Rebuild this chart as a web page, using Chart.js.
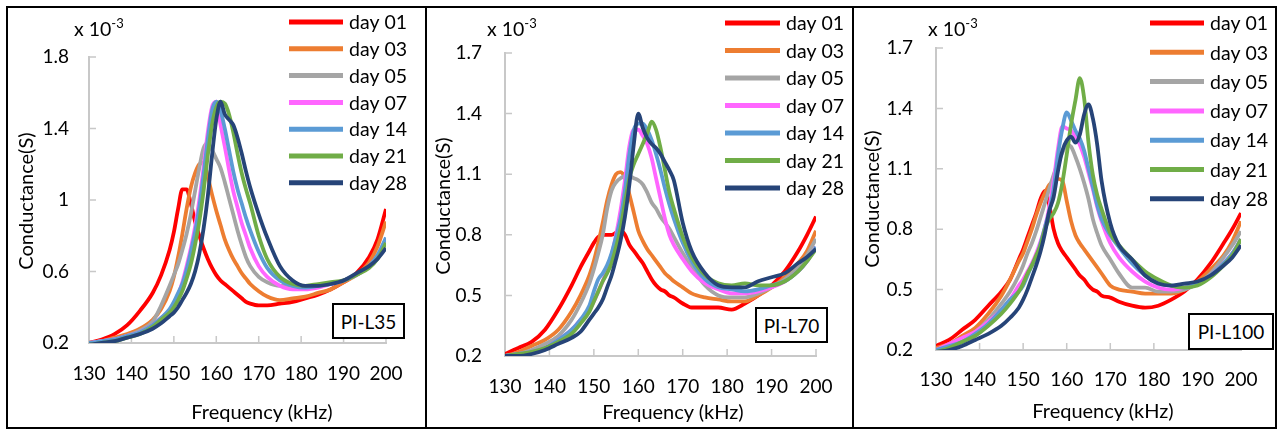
<!DOCTYPE html>
<html lang="en">
<head>
<meta charset="UTF-8">
<title>Conductance vs frequency - PI-L35 / PI-L70 / PI-L100</title>
<script src="https://cdn.jsdelivr.net/npm/chart.js"></script>
<style>
    body { margin: 0; width: 1277px; height: 431px; background: #fff; position: relative; overflow: hidden;
           font-family: Lato, "Open Sans", sans-serif; color: #000; }
    canvas { position: absolute; top: 0; }
    .frame { position: absolute; top: 6px; height: 423px; border: 2px solid #000; box-sizing: border-box; }
    .txt { position: absolute; white-space: nowrap; font-size: 20px; transform: translate(-50%, -50%); }
    .ytitle { transform: translate(-50%, -50%) rotate(-90deg); }
    .mult { position: absolute; white-space: nowrap; font-size: 19.5px; line-height: 22px; }
    .mult sup { font-size: 13px; vertical-align: 8px; line-height: 0; }
    .tag { position: absolute; border: 2px solid #000; box-sizing: border-box; font-size: 19px;
           display: flex; align-items: center; justify-content: center; background: #fff; }
</style>
</head>
<body>

<canvas id="c1" width="425" height="431" style="left:0px"></canvas>
<canvas id="c2" width="427" height="431" style="left:425px"></canvas>
<canvas id="c3" width="425" height="431" style="left:852px"></canvas>

<div class="frame" style="left:6px; width:421px"></div>
<div class="frame" style="left:425px; width:429px"></div>
<div class="frame" style="left:852px; width:425px"></div>

<!-- textos fora do canvas -->
<div class="txt ytitle" style="left:25px; top:201px">Conductance(S)</div>
<div class="txt ytitle" style="left:442px; top:206px">Conductance(S)</div>
<div class="txt ytitle" style="left:871px; top:199px">Conductance(S)</div>

<div class="txt" style="left:262px; top:411px">Frequency (kHz)</div>
<div class="txt" style="left:673px; top:411px">Frequency (kHz)</div>
<div class="txt" style="left:1103px; top:410px">Frequency (kHz)</div>

<div class="mult" style="left:74px; top:18px">x 10<sup>-3</sup></div>
<div class="mult" style="left:487px; top:18px">x 10<sup>-3</sup></div>
<div class="mult" style="left:928px; top:18px">x 10<sup>-3</sup></div>

<div class="tag" style="left:332px; top:303px; width:73px; height:36px">PI-L35</div>
<div class="tag" style="left:755px; top:307px; width:73px; height:36px">PI-L70</div>
<div class="tag" style="left:1188px; top:313px; width:86px; height:37px">PI-L100</div>

<script>
    // frequencias (kHz) - mesmas para os tres graficos
    const freq = [130, 133, 136, 139, 142, 145, 147, 149, 150, 151, 152, 153, 154, 155, 156, 157, 158, 159, 160,
                  161, 162, 163, 164, 165, 166, 167, 168, 170, 172, 175, 178, 181, 184, 187, 190, 193, 196, 198, 200];

    const days = ['day 01', 'day 03', 'day 05', 'day 07', 'day 14', 'day 21', 'day 28'];

    const xTicks = [130, 140, 150, 160, 170, 180, 190, 200];
    const yTicksL35 = [0.2, 0.6, 1.0, 1.4, 1.8];
    const yTicksL70 = [0.2, 0.5, 0.8, 1.1, 1.4, 1.7];
    const yTicksL100 = [0.2, 0.5, 0.8, 1.1, 1.4, 1.7];

    // PI-L35 (x 10^-3 S)
    const l35Day01 = [0.20,0.22,0.25,0.30,0.38,0.48,0.58,0.72,0.82,0.95,1.06,1.06,0.98,0.88,0.80,0.73,0.67,0.62,0.58,0.55,0.53,0.51,0.49,0.47,0.45,0.43,0.42,0.41,0.41,0.42,0.43,0.45,0.47,0.50,0.54,0.59,0.68,0.78,0.95];
    const l35Day03 = [0.20,0.21,0.23,0.25,0.28,0.33,0.39,0.49,0.57,0.68,0.81,0.95,1.07,1.15,1.20,1.21,1.13,1.03,0.94,0.86,0.78,0.72,0.67,0.63,0.59,0.56,0.53,0.49,0.46,0.44,0.45,0.46,0.48,0.50,0.54,0.58,0.65,0.74,0.88];
    const l35Day05 = [0.20,0.21,0.22,0.24,0.27,0.32,0.41,0.52,0.58,0.64,0.72,0.81,0.92,1.05,1.18,1.29,1.32,1.28,1.23,1.18,1.10,1.01,0.92,0.83,0.75,0.68,0.63,0.57,0.54,0.52,0.52,0.52,0.52,0.53,0.55,0.58,0.63,0.69,0.78];
    const l35Day07 = [0.20,0.21,0.22,0.24,0.26,0.30,0.34,0.38,0.42,0.47,0.54,0.63,0.73,0.85,1.00,1.18,1.38,1.52,1.55,1.42,1.30,1.17,1.05,0.96,0.87,0.80,0.73,0.63,0.57,0.52,0.50,0.50,0.51,0.53,0.55,0.58,0.63,0.68,0.76];
    const l35Day14 = [0.20,0.21,0.22,0.24,0.26,0.30,0.34,0.39,0.43,0.48,0.53,0.61,0.71,0.82,0.96,1.14,1.34,1.50,1.55,1.50,1.40,1.28,1.16,1.06,0.98,0.90,0.83,0.71,0.62,0.55,0.52,0.51,0.52,0.53,0.55,0.58,0.63,0.69,0.79];
    const l35Day21 = [0.19,0.20,0.21,0.23,0.25,0.29,0.33,0.37,0.40,0.44,0.49,0.56,0.64,0.75,0.88,1.05,1.25,1.42,1.52,1.55,1.54,1.48,1.38,1.26,1.15,1.06,0.98,0.80,0.67,0.57,0.53,0.52,0.53,0.54,0.55,0.58,0.62,0.67,0.76];
    const l35Day28 = [0.19,0.20,0.21,0.23,0.25,0.28,0.31,0.35,0.37,0.40,0.44,0.48,0.53,0.60,0.70,0.84,1.02,1.25,1.45,1.55,1.48,1.45,1.42,1.35,1.26,1.16,1.07,0.92,0.79,0.63,0.55,0.52,0.52,0.53,0.55,0.59,0.63,0.67,0.73];

    // PI-L70
    const l70Day01 = [0.21,0.24,0.27,0.33,0.43,0.55,0.64,0.72,0.76,0.79,0.80,0.80,0.80,0.81,0.82,0.80,0.75,0.72,0.69,0.66,0.62,0.58,0.55,0.53,0.52,0.50,0.49,0.46,0.44,0.44,0.44,0.43,0.46,0.50,0.55,0.62,0.72,0.80,0.89];
    const l70Day03 = [0.20,0.22,0.25,0.28,0.33,0.42,0.50,0.60,0.67,0.76,0.86,0.97,1.05,1.10,1.11,1.08,1.00,0.91,0.82,0.77,0.73,0.70,0.67,0.64,0.61,0.59,0.57,0.54,0.51,0.49,0.48,0.47,0.47,0.50,0.54,0.59,0.66,0.72,0.82];
    const l70Day05 = [0.20,0.21,0.23,0.26,0.30,0.38,0.46,0.56,0.63,0.71,0.80,0.93,1.02,1.06,1.08,1.09,1.09,1.08,1.07,1.05,1.01,0.96,0.93,0.89,0.86,0.83,0.79,0.71,0.64,0.55,0.50,0.49,0.49,0.51,0.54,0.58,0.64,0.70,0.78];
    const l70Day07 = [0.20,0.21,0.22,0.24,0.28,0.33,0.38,0.43,0.47,0.52,0.57,0.63,0.70,0.80,0.92,1.07,1.24,1.32,1.32,1.29,1.25,1.18,1.08,0.98,0.88,0.80,0.75,0.68,0.62,0.56,0.53,0.51,0.51,0.52,0.54,0.57,0.62,0.67,0.74];
    const l70Day14 = [0.20,0.21,0.22,0.24,0.28,0.33,0.38,0.45,0.52,0.58,0.61,0.65,0.71,0.79,0.88,1.02,1.20,1.32,1.35,1.35,1.32,1.27,1.20,1.12,1.03,0.95,0.88,0.76,0.67,0.58,0.54,0.53,0.52,0.53,0.55,0.57,0.62,0.67,0.74];
    const l70Day21 = [0.20,0.21,0.22,0.24,0.27,0.31,0.36,0.42,0.47,0.52,0.57,0.61,0.66,0.74,0.83,0.96,1.08,1.15,1.20,1.25,1.30,1.36,1.32,1.23,1.12,1.01,0.93,0.79,0.69,0.60,0.56,0.55,0.56,0.55,0.55,0.57,0.62,0.67,0.73];
    const l70Day28 = [0.20,0.20,0.21,0.23,0.26,0.29,0.32,0.38,0.41,0.44,0.48,0.54,0.60,0.68,0.77,0.89,1.05,1.25,1.40,1.33,1.28,1.25,1.23,1.20,1.16,1.12,1.07,0.86,0.72,0.61,0.55,0.54,0.54,0.57,0.59,0.61,0.66,0.69,0.73];

    // PI-L100
    const l100Day01 = [0.22,0.25,0.30,0.35,0.42,0.49,0.55,0.65,0.70,0.76,0.82,0.88,0.95,0.99,0.92,0.80,0.73,0.69,0.66,0.63,0.60,0.57,0.55,0.52,0.50,0.49,0.47,0.46,0.44,0.42,0.41,0.42,0.45,0.49,0.55,0.63,0.73,0.80,0.88];
    const l100Day03 = [0.21,0.23,0.27,0.31,0.38,0.47,0.55,0.64,0.68,0.74,0.80,0.87,0.93,0.98,1.02,1.04,1.05,1.04,0.94,0.84,0.77,0.73,0.70,0.67,0.64,0.61,0.58,0.52,0.50,0.49,0.48,0.48,0.48,0.50,0.54,0.60,0.67,0.74,0.84];
    const l100Day05 = [0.20,0.22,0.25,0.29,0.35,0.43,0.49,0.57,0.62,0.68,0.73,0.79,0.86,0.93,1.00,1.07,1.13,1.18,1.22,1.21,1.16,1.10,1.03,0.95,0.85,0.78,0.72,0.65,0.58,0.51,0.51,0.49,0.49,0.50,0.53,0.58,0.66,0.72,0.79];
    const l100Day07 = [0.20,0.23,0.26,0.29,0.34,0.40,0.45,0.52,0.55,0.59,0.63,0.68,0.74,0.81,0.91,1.04,1.20,1.31,1.30,1.29,1.26,1.22,1.16,1.08,1.00,0.91,0.84,0.73,0.66,0.59,0.54,0.51,0.50,0.51,0.53,0.57,0.63,0.68,0.75];
    const l100Day14 = [0.20,0.22,0.24,0.28,0.33,0.40,0.45,0.49,0.52,0.57,0.62,0.66,0.73,0.81,0.89,1.00,1.17,1.30,1.38,1.34,1.29,1.25,1.19,1.10,1.01,0.92,0.85,0.77,0.71,0.63,0.57,0.53,0.52,0.51,0.53,0.57,0.63,0.68,0.75];
    const l100Day21 = [0.19,0.21,0.24,0.27,0.32,0.38,0.43,0.49,0.53,0.58,0.62,0.67,0.72,0.80,0.85,0.88,0.93,1.03,1.17,1.32,1.44,1.55,1.45,1.23,1.07,0.97,0.90,0.78,0.72,0.65,0.59,0.55,0.52,0.51,0.52,0.56,0.62,0.67,0.75];
    const l100Day28 = [0.19,0.20,0.22,0.25,0.28,0.32,0.36,0.41,0.45,0.50,0.56,0.62,0.69,0.78,0.89,0.96,1.09,1.19,1.24,1.26,1.23,1.27,1.37,1.42,1.35,1.22,1.04,0.83,0.72,0.65,0.57,0.53,0.52,0.53,0.54,0.57,0.62,0.66,0.72];

    const cores = ['#FF0000', '#ED7D31', '#A5A5A5', '#FF66FF', '#5B9BD5', '#70AD47', '#264478'];

    Chart.defaults.font.family = 'Lato, "Open Sans", sans-serif';
    Chart.defaults.font.size = 19;
    Chart.defaults.color = '#000';

    // marcas de escala para dentro do grafico (estilo Excel)
    const marcasInternas = {
        id: 'marcasInternas',
        beforeDatasetsDraw(chart) {
            const ctx = chart.ctx;
            const x = chart.scales.x, y = chart.scales.y;
            ctx.save();
            ctx.strokeStyle = '#c8c8c8';
            ctx.lineWidth = 1.5;
            ctx.beginPath();
            x.ticks.forEach(function (t) {
                const px = x.getPixelForValue(t.value);
                ctx.moveTo(px, y.bottom);
                ctx.lineTo(px, y.bottom - 7);
            });
            y.ticks.forEach(function (t) {
                const py = y.getPixelForValue(t.value);
                ctx.moveTo(x.left, py);
                ctx.lineTo(x.left + 7, py);
            });
            ctx.stroke();
            ctx.restore();
        }
    };

    // legenda desenhada a partir dos datasets
    const legendaDias = {
        id: 'legendaDias',
        afterDraw(chart, args, opts) {
            const ctx = chart.ctx;
            ctx.save();
            ctx.font = '19.5px Lato, "Open Sans", sans-serif';
            ctx.textBaseline = 'middle';
            ctx.fillStyle = '#000';
            chart.data.datasets.forEach(function (ds, i) {
                const yy = opts.y0 + i * opts.dy;
                ctx.strokeStyle = ds.borderColor;
                ctx.lineWidth = 5;
                ctx.beginPath();
                ctx.moveTo(opts.x0, yy);
                ctx.lineTo(opts.x1, yy);
                ctx.stroke();
                ctx.fillText(ds.label, opts.xt, yy + 1);
            });
            ctx.restore();
        }
    };

    function criarGrafico(id, series, yTicks, area, leg) {
        const datasets = series.map(function (vals, i) {
            return {
                label: days[i],
                data: freq.map(function (f, k) { return { x: f, y: vals[k] }; }),
                borderColor: cores[i],
                backgroundColor: cores[i],
                borderWidth: 3.8,
                pointRadius: 0,
                cubicInterpolationMode: 'monotone',
                fill: false,
                order: series.length - 1 - i
            };
        });

        const eixo = {
            grid: { display: false, drawTicks: false },
            border: { display: true, color: '#c8c8c8', width: 2 }
        };

        return new Chart(document.getElementById(id), {
            type: 'line',
            data: { datasets: datasets },
            options: {
                responsive: false,
                animation: false,
                events: [],
                layout: { padding: { left: 0, top: area.top, right: area.right, bottom: 0 } },
                plugins: { legend: { display: false }, tooltip: { enabled: false }, legendaDias: leg },
                scales: {
                    x: Object.assign({}, eixo, {
                        type: 'linear',
                        min: xTicks[0],
                        max: xTicks[xTicks.length - 1],
                        afterBuildTicks: function (s) { s.ticks = xTicks.map(function (v) { return { value: v }; }); },
                        afterFit: function (s) { s.height = area.bottom; },
                        ticks: { padding: area.xPad, maxRotation: 0 }
                    }),
                    y: Object.assign({}, eixo, {
                        min: yTicks[0],
                        max: yTicks[yTicks.length - 1],
                        afterBuildTicks: function (s) { s.ticks = yTicks.map(function (v) { return { value: v }; }); },
                        afterFit: function (s) { s.width = area.left; },
                        ticks: {
                            padding: area.yPad,
                            callback: function (v) { return String(Number(v.toFixed(1))); }
                        }
                    })
                }
            },
            plugins: [marcasInternas, legendaDias]
        });
    }

    criarGrafico('c1', [l35Day01, l35Day03, l35Day05, l35Day07, l35Day14, l35Day21, l35Day28], yTicksL35,
        { left: 89, top: 57, right: 39, bottom: 88, xPad: 19, yPad: 20 },
        { x0: 289, x1: 343, xt: 349, y0: 22, dy: 26.8 });

    criarGrafico('c2', [l70Day01, l70Day03, l70Day05, l70Day07, l70Day14, l70Day21, l70Day28], yTicksL70,
        { left: 80, top: 53, right: 36, bottom: 75, xPad: 19, yPad: 23 },
        { x0: 300, x1: 355, xt: 361, y0: 23, dy: 27.5 });

    criarGrafico('c3', [l100Day01, l100Day03, l100Day05, l100Day07, l100Day14, l100Day21, l100Day28], yTicksL100,
        { left: 84, top: 48, right: 36, bottom: 81, xPad: 18, yPad: 23 },
        { x0: 298, x1: 352, xt: 358, y0: 23, dy: 29.3 });
</script>
</body>
</html>
